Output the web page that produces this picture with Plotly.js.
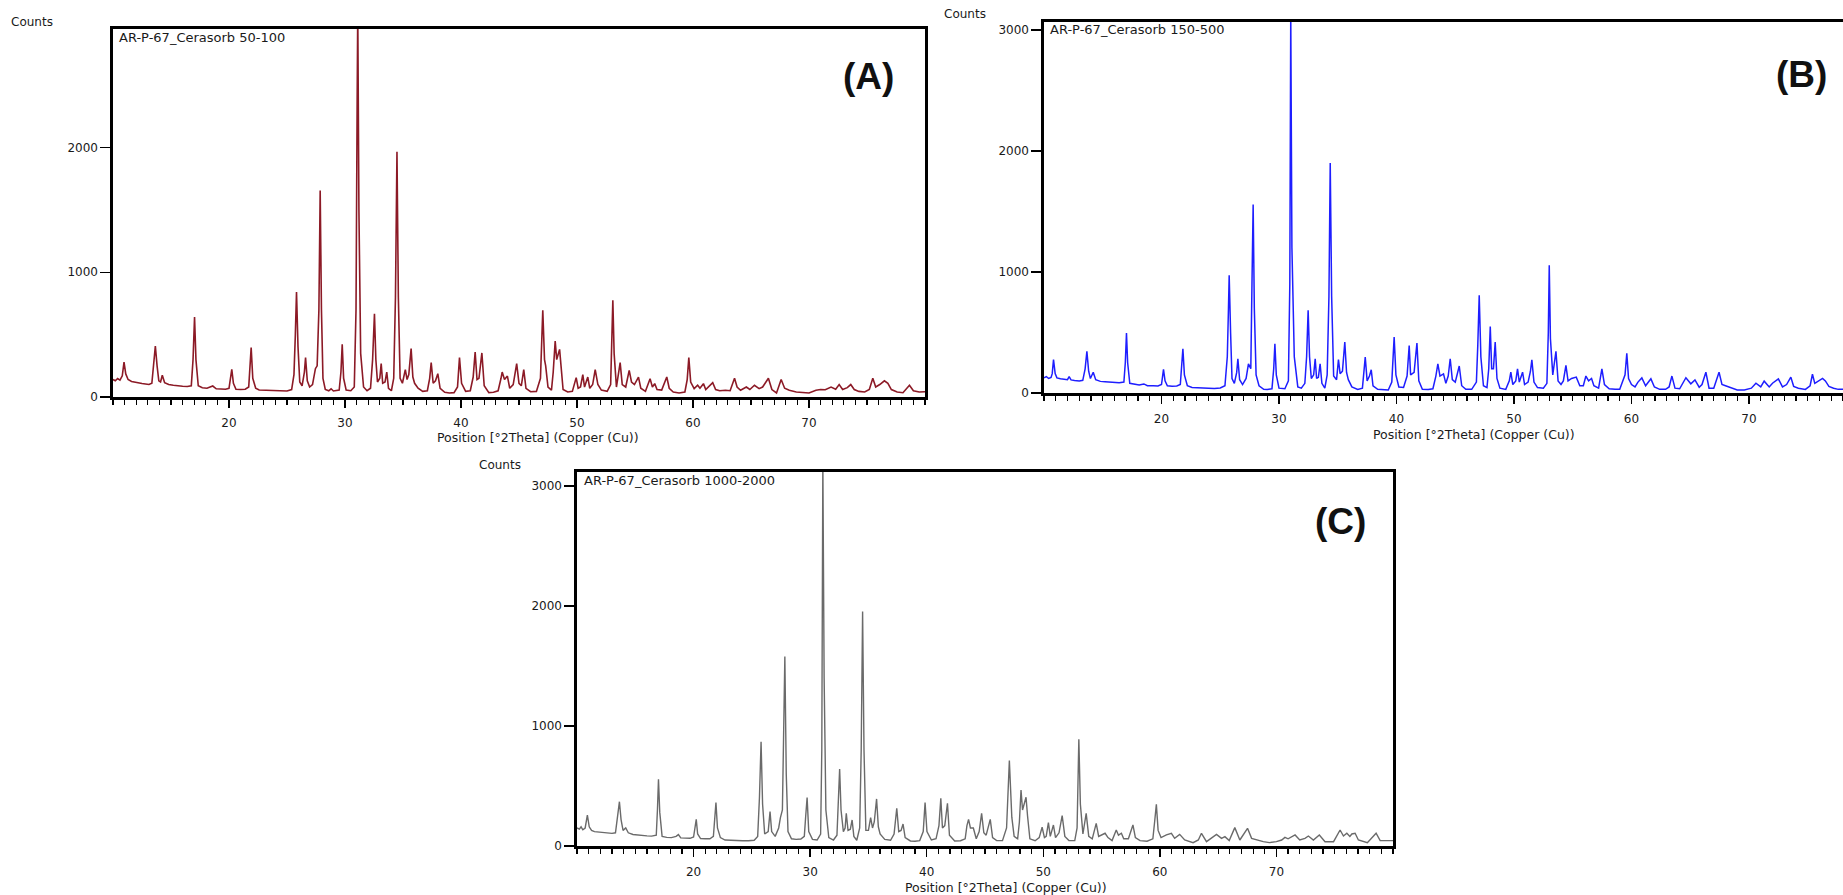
<!DOCTYPE html>
<html><head><meta charset="utf-8">
<script src="https://cdn.plot.ly/plotly-3.0.1.min.js"></script>
<style>html,body{margin:0;padding:0;background:#fff;}#chart{width:1843px;height:895px;}</style>
</head><body><div id="chart"></div>
<script>
// ---- Data (2Theta, counts) ----
const pointsA = [[10.0,140],[10.2,130],[10.4,148],[10.6,135],[10.8,170],[10.95,280],[11.1,185],[11.3,140],[11.6,125],[11.9,118],[12.2,112],[12.5,108],[12.8,104],[13.1,100],[13.35,110],[13.5,250],[13.65,409],[13.8,250],[13.95,130],[14.1,120],[14.25,174],[14.45,115],[14.8,100],[15.2,94],[15.6,88],[16.0,86],[16.4,84],[16.75,90],[16.9,300],[17.03,641],[17.15,300],[17.35,90],[17.7,74],[18.1,70],[18.6,88],[18.9,66],[19.3,64],[19.7,62],[20.0,70],[20.1,150],[20.24,222],[20.38,110],[20.6,62],[21.0,60],[21.4,62],[21.7,80],[21.8,200],[21.91,396],[22.05,150],[22.3,70],[22.6,56],[23.0,54],[23.5,52],[24.0,48],[24.5,46],[25.0,48],[25.4,60],[25.6,180],[25.72,500],[25.82,841],[25.95,400],[26.1,120],[26.3,90],[26.5,200],[26.6,316],[26.75,130],[26.95,80],[27.2,100],[27.45,227],[27.6,250],[27.75,700],[27.86,1656],[27.97,700],[28.1,150],[28.3,60],[28.6,50],[28.8,66],[29.0,48],[29.5,55],[29.65,200],[29.76,422],[29.88,150],[30.1,55],[30.5,50],[30.8,80],[30.95,700],[31.05,2400],[31.1,3100],[31.2,1500],[31.35,350],[31.6,80],[31.9,50],[32.2,70],[32.38,300],[32.54,668],[32.66,300],[32.8,120],[33.0,150],[33.12,268],[33.25,110],[33.45,120],[33.6,200],[33.75,70],[34.0,50],[34.2,150],[34.35,800],[34.48,1965],[34.6,800],[34.75,150],[34.95,110],[35.2,219],[35.35,140],[35.5,180],[35.7,388],[35.85,160],[36.0,110],[36.3,70],[36.7,45],[37.1,50],[37.3,150],[37.43,276],[37.6,110],[37.8,130],[38.0,187],[38.2,70],[38.6,38],[39.0,32],[39.4,35],[39.7,80],[39.87,316],[40.05,110],[40.4,45],[40.8,50],[41.05,160],[41.22,361],[41.38,140],[41.55,150],[41.8,353],[42.0,90],[42.4,35],[42.8,38],[43.2,50],[43.45,150],[43.55,200],[43.75,140],[44.0,168],[44.2,70],[44.5,100],[44.8,268],[45.0,110],[45.2,90],[45.41,219],[45.6,70],[46.0,42],[46.5,45],[46.85,150],[47.05,695],[47.2,300],[47.3,250],[47.5,80],[47.8,55],[47.95,200],[48.12,449],[48.25,300],[48.5,382],[48.62,220],[48.8,60],[49.2,40],[49.6,45],[49.93,155],[50.1,70],[50.3,80],[50.5,180],[50.65,80],[50.93,160],[51.1,70],[51.35,100],[51.57,220],[51.8,100],[52.1,55],[52.6,45],[52.9,100],[53.0,400],[53.09,775],[53.2,350],[53.4,80],[53.72,276],[53.9,100],[54.2,80],[54.5,213],[54.7,120],[54.95,100],[55.3,160],[55.5,70],[55.9,45],[56.3,147],[56.5,80],[56.7,107],[56.9,60],[57.3,55],[57.74,160],[57.95,70],[58.3,40],[58.8,32],[59.3,40],[59.5,140],[59.64,316],[59.8,120],[60.1,67],[60.4,94],[60.6,70],[60.9,107],[61.1,60],[61.7,115],[61.95,60],[62.3,50],[62.8,54],[63.2,50],[63.58,150],[63.8,80],[64.1,54],[64.6,80],[64.9,60],[65.3,94],[65.7,67],[66.0,80],[66.5,150],[66.8,60],[67.2,32],[67.6,140],[67.9,70],[68.3,54],[68.9,40],[69.4,36],[70.0,32],[70.6,54],[71.0,60],[71.4,58],[71.9,80],[72.3,62],[72.6,100],[72.9,60],[73.3,75],[73.6,100],[73.9,60],[74.3,45],[74.8,40],[75.2,60],[75.5,150],[75.75,80],[76.1,100],[76.5,130],[76.8,110],[77.1,60],[77.6,40],[78.1,34],[78.66,94],[79.0,50],[79.5,40],[80.0,42]];

const pointsB = [[10.0,125],[10.2,135],[10.4,120],[10.6,128],[10.7,160],[10.81,277],[10.95,160],[11.1,125],[11.4,118],[11.7,115],[12.0,110],[12.14,135],[12.3,108],[12.6,104],[13.0,100],[13.3,105],[13.5,200],[13.65,344],[13.8,180],[13.95,120],[14.19,172],[14.4,110],[14.8,96],[15.2,93],[15.6,90],[16.0,88],[16.4,85],[16.8,90],[16.92,250],[17.02,495],[17.12,250],[17.3,80],[17.7,70],[18.1,66],[18.5,75],[18.8,60],[19.3,60],[19.7,58],[20.0,70],[20.08,120],[20.17,195],[20.3,100],[20.5,60],[20.9,55],[21.3,58],[21.6,70],[21.72,200],[21.82,366],[21.95,150],[22.2,60],[22.6,45],[23.0,42],[23.5,40],[24.0,40],[24.5,38],[25.0,42],[25.4,60],[25.6,300],[25.7,700],[25.76,973],[25.88,500],[26.0,120],[26.2,80],[26.4,170],[26.5,283],[26.65,110],[26.9,70],[27.2,120],[27.4,241],[27.6,200],[27.7,900],[27.8,1558],[27.9,700],[28.05,150],[28.3,60],[28.7,30],[29.0,28],[29.4,35],[29.55,200],[29.65,407],[29.77,150],[30.0,40],[30.5,35],[30.8,100],[30.92,900],[31.0,3150],[31.1,1200],[31.3,300],[31.6,50],[31.9,40],[32.2,80],[32.35,300],[32.48,683],[32.6,300],[32.75,120],[32.95,150],[33.08,283],[33.2,120],[33.35,130],[33.5,241],[33.65,80],[33.9,40],[34.1,150],[34.25,800],[34.36,1900],[34.48,800],[34.65,140],[34.9,110],[35.06,277],[35.2,160],[35.4,180],[35.6,421],[35.75,170],[35.9,110],[36.2,50],[36.7,30],[37.1,40],[37.22,160],[37.34,297],[37.5,100],[37.7,140],[37.85,192],[38.0,60],[38.4,30],[38.9,25],[39.3,25],[39.6,90],[39.8,462],[39.95,150],[40.2,50],[40.6,45],[40.9,140],[41.08,393],[41.2,150],[41.5,170],[41.74,413],[41.9,100],[42.2,30],[42.7,28],[43.1,35],[43.35,140],[43.52,241],[43.7,140],[44.0,158],[44.2,80],[44.4,140],[44.57,283],[44.75,110],[45.0,90],[45.34,223],[45.55,60],[45.9,30],[46.4,30],[46.8,90],[46.92,400],[47.04,807],[47.18,300],[47.4,60],[47.7,45],[47.85,200],[47.98,550],[48.1,200],[48.25,200],[48.4,421],[48.55,120],[48.8,40],[49.3,30],[49.6,100],[49.73,172],[49.9,70],[50.15,100],[50.3,200],[50.45,90],[50.73,172],[50.9,70],[51.2,90],[51.4,180],[51.52,274],[51.7,90],[52.0,45],[52.5,40],[52.8,80],[52.92,500],[53.0,1055],[53.1,450],[53.3,150],[53.57,345],[53.75,100],[54.0,70],[54.2,100],[54.42,228],[54.6,100],[54.9,120],[55.3,131],[55.6,60],[55.9,60],[56.12,140],[56.35,100],[56.6,120],[56.8,60],[57.2,40],[57.48,200],[57.7,70],[58.1,35],[58.6,30],[59.0,30],[59.45,150],[59.6,328],[59.75,120],[60.0,70],[60.3,50],[60.55,90],[60.88,125],[61.2,60],[61.65,117],[61.95,50],[62.4,30],[62.9,30],[63.2,50],[63.44,140],[63.7,40],[64.1,35],[64.63,126],[65.05,76],[65.4,108],[65.76,48],[66.0,70],[66.33,172],[66.6,40],[67.0,40],[67.45,172],[67.7,70],[68.0,60],[68.5,45],[69.0,25],[69.6,25],[70.2,40],[70.59,81],[71.0,50],[71.29,98],[71.72,50],[72.0,81],[72.5,117],[72.85,50],[73.2,70],[73.56,131],[73.8,55],[74.2,40],[74.8,30],[75.2,60],[75.4,155],[75.6,80],[75.9,100],[76.26,120],[76.5,100],[76.8,55],[77.2,40],[77.6,30],[78.0,30]];

const pointsC = [[10.0,150],[10.2,140],[10.35,160],[10.5,135],[10.7,150],[10.89,258],[11.05,160],[11.25,130],[11.5,120],[11.8,118],[12.1,114],[12.4,110],[12.7,108],[13.0,105],[13.3,110],[13.5,250],[13.64,369],[13.78,220],[13.95,130],[14.18,150],[14.4,110],[14.8,96],[15.2,90],[15.6,86],[16.0,84],[16.4,82],[16.8,90],[16.9,300],[16.99,556],[17.1,280],[17.3,80],[17.7,72],[18.1,70],[18.5,80],[18.7,95],[18.9,68],[19.3,66],[19.7,64],[20.0,75],[20.12,150],[20.23,222],[20.35,100],[20.6,62],[21.0,60],[21.4,60],[21.7,80],[21.82,200],[21.92,361],[22.05,150],[22.3,70],[22.7,50],[23.2,46],[23.7,44],[24.2,44],[24.7,44],[25.2,48],[25.5,80],[25.65,400],[25.79,869],[25.92,350],[26.1,100],[26.4,120],[26.56,286],[26.7,120],[27.0,80],[27.3,150],[27.45,236],[27.62,300],[27.72,900],[27.83,1578],[27.95,600],[28.1,120],[28.4,60],[28.8,55],[29.2,58],[29.5,80],[29.62,250],[29.74,403],[29.88,120],[30.2,55],[30.6,50],[30.9,100],[31.0,800],[31.09,3200],[31.2,1400],[31.35,300],[31.6,70],[32.0,50],[32.3,90],[32.42,350],[32.53,642],[32.65,300],[32.85,120],[33.0,150],[33.1,272],[33.25,130],[33.45,140],[33.6,217],[33.75,80],[34.0,48],[34.25,150],[34.38,800],[34.5,1953],[34.62,800],[34.78,130],[35.0,130],[35.19,236],[35.35,150],[35.5,200],[35.7,392],[35.85,160],[36.0,100],[36.4,55],[36.9,48],[37.2,100],[37.43,314],[37.6,120],[37.8,130],[37.97,183],[38.15,70],[38.6,42],[39.0,40],[39.4,45],[39.7,120],[39.86,361],[40.02,120],[40.4,50],[40.8,60],[41.05,170],[41.21,397],[41.35,150],[41.55,170],[41.78,356],[41.95,90],[42.4,42],[42.9,44],[43.3,60],[43.45,170],[43.59,222],[43.75,150],[44.0,150],[44.25,60],[44.5,120],[44.71,272],[44.9,110],[45.1,90],[45.45,222],[45.65,70],[46.0,45],[46.5,45],[46.85,150],[47.09,711],[47.22,350],[47.3,240],[47.5,80],[47.8,60],[47.95,200],[48.09,467],[48.22,300],[48.35,350],[48.52,406],[48.65,250],[48.85,60],[49.3,44],[49.65,70],[49.9,156],[50.1,70],[50.25,80],[50.44,194],[50.6,80],[50.87,175],[51.05,70],[51.35,110],[51.62,253],[51.85,80],[52.2,45],[52.7,45],[52.9,150],[53.05,889],[53.18,350],[53.4,100],[53.68,272],[53.9,80],[54.2,60],[54.54,189],[54.75,80],[55.0,90],[55.3,106],[55.55,70],[55.9,45],[56.26,133],[56.45,90],[56.7,106],[56.9,60],[57.3,60],[57.69,175],[57.9,70],[58.3,45],[58.9,40],[59.4,60],[59.55,200],[59.7,347],[59.85,130],[60.1,70],[60.56,92],[60.99,106],[61.27,64],[61.7,97],[62.13,50],[62.85,28],[63.3,50],[63.57,106],[64.0,36],[64.86,97],[65.29,64],[65.58,78],[65.95,45],[66.43,153],[66.86,50],[67.52,147],[67.87,64],[68.3,50],[68.87,36],[69.4,28],[70.0,36],[70.45,50],[70.73,72],[71.0,60],[71.3,78],[71.6,92],[72.0,50],[72.45,64],[72.74,83],[73.17,50],[73.68,92],[74.17,36],[74.9,36],[75.46,133],[75.75,83],[76.04,106],[76.3,80],[76.47,100],[76.75,106],[77.03,50],[77.8,28],[78.55,106],[78.9,45],[79.5,45],[80.0,45]];

const sampleNames = ["AR-P-67_Cerasorb 50-100", "AR-P-67_Cerasorb 150-500", "AR-P-67_Cerasorb 1000-2000"];
const panelLabels = ["(A)", "(B)", "(C)"];
const xTickVals = [20, 30, 40, 50, 60, 70];
const yTickValsA = [0, 1000, 2000];
const yTickValsBC = [0, 1000, 2000, 3000];
const xTitle = "Position [°2Theta] (Copper (Cu))";
const yLabel = "Counts";

// ---- Build ----
const W = 1843, H = 895;
const fx = v => v / W, fy = v => 1 - v / H;
const colA = '#8c1a26', colB = '#1e1eff', colC = '#6a6a6a';

function tr(pts, col, xa, ya, w) {
  return {type:'scatter', mode:'lines', x: pts.map(p=>p[0]), y: pts.map(p=>p[1]),
    xaxis: xa, yaxis: ya, line:{color:col, width:w}, hoverinfo:'skip'};
}
const tickFont = {family:'DejaVu Sans, Arial, sans-serif', size:12, color:'#1a1a1a'};
function xAx(dom, rng, anchor, mirror) {
  return {domain: dom, range: rng, anchor: anchor, showgrid:false, zeroline:false,
    showline:true, linecolor:'#000', linewidth:2.6, mirror: mirror,
    tickmode:'array', tickvals: xTickVals, ticks:'outside', ticklen:8, tickwidth:1.4, tickcolor:'#000',
    tickfont: tickFont, ticklabelstandoff: 5,
    minor:{tickmode:'linear', tick0:10, dtick:1, ticks:'outside', ticklen:5, tickwidth:1.2, tickcolor:'#000', showgrid:false}};
}
function yAx(dom, rng, anchor, mirror, vals) {
  return {domain: dom, range: rng, anchor: anchor, showgrid:false, zeroline:false,
    showline:true, linecolor:'#000', linewidth:2.6, mirror: mirror,
    tickmode:'array', tickvals: vals, ticks:'outside', ticklen:10, tickwidth:1.4, tickcolor:'#000',
    tickfont: tickFont};
}

const data = [
  tr(pointsA, colA, 'x', 'y', 1.6),
  tr(pointsB, colB, 'x2', 'y2', 1.5),
  tr(pointsC, colC, 'x3', 'y3', 1.4)
];

const smallFont = {family:'DejaVu Sans, Arial, sans-serif', size:12, color:'#1a1a1a'};
const bigFont = {family:'Liberation Sans, Arial, sans-serif', size:37, color:'#111'};
const annotations = [
  {text:yLabel, xref:'paper', yref:'paper', x:fx(32), y:fy(22), xanchor:'center', yanchor:'middle', showarrow:false, font:smallFont},
  {text:yLabel, xref:'paper', yref:'paper', x:fx(965), y:fy(14), xanchor:'center', yanchor:'middle', showarrow:false, font:smallFont},
  {text:yLabel, xref:'paper', yref:'paper', x:fx(500), y:fy(465), xanchor:'center', yanchor:'middle', showarrow:false, font:smallFont},
  {text:sampleNames[0], xref:'paper', yref:'paper', x:fx(117), y:fy(37), xanchor:'left', yanchor:'middle', showarrow:false, font:{...smallFont, size:13}},
  {text:sampleNames[1], xref:'paper', yref:'paper', x:fx(1048), y:fy(29.5), xanchor:'left', yanchor:'middle', showarrow:false, font:{...smallFont, size:13}},
  {text:sampleNames[2], xref:'paper', yref:'paper', x:fx(582), y:fy(480), xanchor:'left', yanchor:'middle', showarrow:false, font:{...smallFont, size:13}},
  {text:'<b>'+panelLabels[0]+'</b>', xref:'paper', yref:'paper', x:fx(868), y:fy(76), xanchor:'center', yanchor:'middle', showarrow:false, font:bigFont},
  {text:'<b>'+panelLabels[1]+'</b>', xref:'paper', yref:'paper', x:fx(1801), y:fy(74), xanchor:'center', yanchor:'middle', showarrow:false, font:bigFont},
  {text:'<b>'+panelLabels[2]+'</b>', xref:'paper', yref:'paper', x:fx(1340), y:fy(521), xanchor:'center', yanchor:'middle', showarrow:false, font:bigFont},
  {text:xTitle, xref:'x', yref:'paper', x:46.6, y:fy(437), xanchor:'center', yanchor:'middle', showarrow:false, font:{...smallFont, size:12.5}},
  {text:xTitle, xref:'x2', yref:'paper', x:46.6, y:fy(434), xanchor:'center', yanchor:'middle', showarrow:false, font:{...smallFont, size:12.5}},
  {text:xTitle, xref:'x3', yref:'paper', x:46.8, y:fy(887), xanchor:'center', yanchor:'middle', showarrow:false, font:{...smallFont, size:12.5}}
];

const layout = {
  width: W, height: H, margin:{l:0, r:0, t:0, b:0}, showlegend:false,
  paper_bgcolor:'#fff', plot_bgcolor:'#fff',
  xaxis:  xAx([fx(113), fx(925)], [10, 80], 'y', true),
  yaxis:  yAx([fy(397), fy(29)], [0, 2950], 'x', true, yTickValsA),
  xaxis2: xAx([fx(1044), 1], [10, 78.0], 'y2', true),
  yaxis2: yAx([fy(393), fy(22)], [0, 3066], 'x2', false, yTickValsBC),
  xaxis3: xAx([fx(577), fx(1393)], [10, 80], 'y3', true),
  yaxis3: yAx([fy(846), fy(472)], [0, 3115], 'x3', true, yTickValsBC),
  annotations: annotations
};

Plotly.newPlot('chart', data, layout, {staticPlot:true, displayModeBar:false});
</script></body></html>
